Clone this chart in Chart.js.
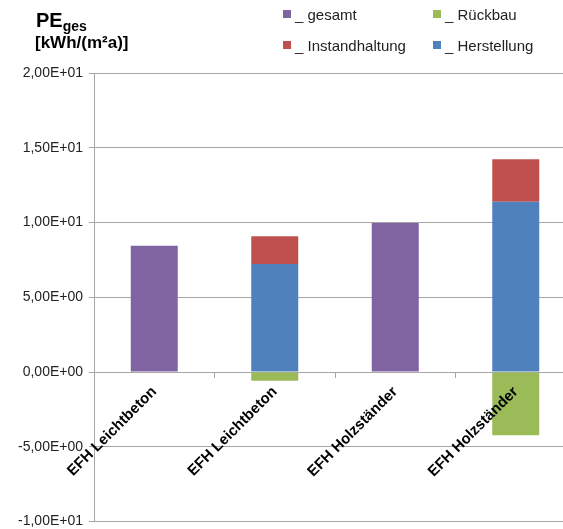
<!DOCTYPE html>
<html>
<head>
<meta charset="utf-8">
<script src="https://cdn.jsdelivr.net/npm/chart.js@4.4.1/dist/chart.umd.min.js"></script>
<style>
  html, body { margin: 0; padding: 0; background: #fff; overflow: hidden; }
  #wrap { position: absolute; left: 0; top: 0; width: 580px; height: 536px; }
</style>
</head>
<body>
<div id="wrap"><canvas id="myChart"></canvas></div>
<script>
const categories = ["EFH Leichtbeton", "EFH Leichtbeton", "EFH Holzständer", "EFH Holzständer"];

const gesamt = [8.45, null, 9.97, null];
const herstellung = [null, 7.22, null, 11.39];
const instandhaltung = [null, 1.86, null, 2.84];
const rueckbau = [null, -0.58, null, -4.23];

const yTicks = [-10, -5, 0, 5, 10, 15, 20];

const FONT = "Arial, 'Liberation Sans', sans-serif";

// 2,00E+01 style labels
const sciLabel = (v) => {
    const parts = Number(v).toExponential(2).split("e");
    const exp = parseInt(parts[1], 10);
    return parts[0].replace(".", ",") + "E" + (exp < 0 ? "-" : "+") + String(Math.abs(exp)).padStart(2, "0");
};

// unit title top left and the 2x2 legend
const decorations = {
    id: "decorations",
    afterDraw(chart) {
        const ctx = chart.ctx;
        ctx.save();
        ctx.fillStyle = "#000";
        ctx.textAlign = "left";
        ctx.textBaseline = "alphabetic";
        ctx.font = "bold 20px " + FONT;
        ctx.fillText("PE", 36, 27);
        const w = ctx.measureText("PE").width;
        ctx.font = "bold 14px " + FONT;
        ctx.fillText("ges", 36 + w, 31);
        ctx.font = "bold 17px " + FONT;
        ctx.fillText("[kWh/(m²a)]", 35, 48);

        const items = [
            { ds: 0, x: 283, y: 10 },
            { ds: 3, x: 433, y: 10 },
            { ds: 2, x: 283, y: 41 },
            { ds: 1, x: 433, y: 41 }
        ];
        ctx.font = "15px " + FONT;
        items.forEach(it => {
            const ds = chart.data.datasets[it.ds];
            ctx.fillStyle = ds.backgroundColor;
            ctx.fillRect(it.x, it.y, 8, 8);
            ctx.fillStyle = "#222";
            ctx.fillText(ds.label, it.x + 12, it.y + 10);
        });
        ctx.restore();
    }
};

new Chart(document.getElementById("myChart"), {
    type: "bar",
    data: {
        labels: categories,
        datasets: [
            { label: "_ gesamt", data: gesamt, backgroundColor: "#8064A2" },
            { label: "_ Herstellung", data: herstellung, backgroundColor: "#4F81BD" },
            { label: "_ Instandhaltung", data: instandhaltung, backgroundColor: "#C0504D" },
            { label: "_ Rückbau", data: rueckbau, backgroundColor: "#9BBB59" }
        ]
    },
    options: {
        responsive: true,
        maintainAspectRatio: false,
        animation: false,
        datasets: {
            bar: { categoryPercentage: 1, barPercentage: 0.39, borderWidth: 0 }
        },
        layout: { padding: { top: 73, right: 4, bottom: 1, left: 0 } },
        plugins: {
            legend: { display: false },
            tooltip: { enabled: false }
        },
        scales: {
            x: {
                stacked: true,
                position: { y: 0 },
                grid: { drawOnChartArea: false, offset: true, tickLength: 5, color: "#a6a6a6" },
                border: { display: true, color: "#a6a6a6" },
                ticks: {
                    z: 1,
                    autoSkip: false,
                    maxRotation: 45,
                    minRotation: 45,
                    padding: 6,
                    color: "#000",
                    font: { family: FONT, size: 15, weight: "bold" }
                }
            },
            y: {
                stacked: true,
                min: -10,
                max: 20,
                afterFit: (scale) => { scale.width = 94; },
                afterBuildTicks: (scale) => { scale.ticks = yTicks.map(v => ({ value: v })); },
                grid: { color: "#a6a6a6", tickLength: 5 },
                border: { color: "#a6a6a6" },
                ticks: {
                    padding: 6,
                    color: "#222",
                    font: { family: FONT, size: 14 },
                    callback: (v) => sciLabel(v)
                }
            }
        }
    },
    plugins: [decorations]
});
</script>
</body>
</html>
